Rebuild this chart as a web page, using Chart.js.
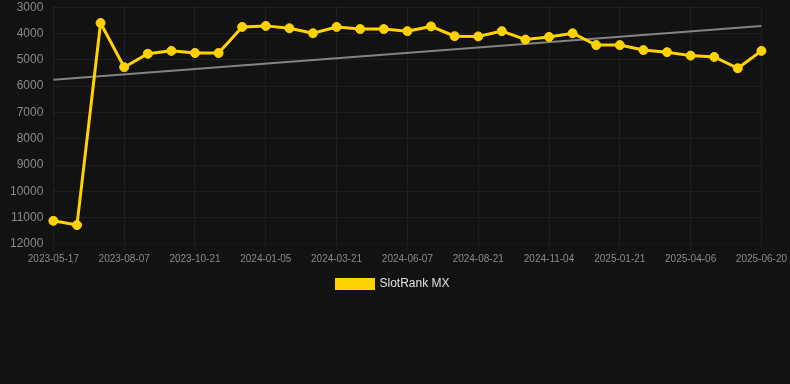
<!DOCTYPE html>
<html lang="en">
<head>
    <meta charset="UTF-8">
    <title>SlotRank MX</title>
    <script src="https://cdn.jsdelivr.net/npm/chart.js@4.4.0/dist/chart.umd.min.js"></script>
    <style>
        body {
            margin: 0;
            background-color: #121212;
        }
        .chart-container {
            width: 790px;
            height: 300px;
        }
    </style>
</head>
<body>
    <div class="chart-container">
        <canvas id="rankChart"></canvas>
    </div>

    <script>
        // Dates (category axis) - only every third one is labelled
        const dates = [
            '2023-05-17', '2023-06-13', '2023-07-11', '2023-08-07', '2023-09-03', '2023-09-27',
            '2023-10-21', '2023-11-17', '2023-12-11', '2024-01-05', '2024-01-31', '2024-02-25',
            '2024-03-21', '2024-04-17', '2024-05-12', '2024-06-07', '2024-07-03', '2024-07-27',
            '2024-08-21', '2024-09-15', '2024-10-10', '2024-11-04', '2024-11-30', '2024-12-26',
            '2025-01-21', '2025-02-14', '2025-03-12', '2025-04-06', '2025-04-30', '2025-05-25',
            '2025-06-20'
        ];
        const rankValues = [
            11120, 11280, 3600, 5280, 4770, 4660, 4740, 4740, 3750, 3710, 3800, 3990,
            3750, 3830, 3830, 3910, 3730, 4100, 4110, 3910, 4230, 4130, 3990, 4440,
            4440, 4630, 4710, 4840, 4890, 5320, 4660
        ];
        // Trend line: start and end values only
        const trendValues = [5760, null, null, null, null, null, null, null, null, null, null, null,
            null, null, null, null, null, null, null, null, null, null, null, null,
            null, null, null, null, null, null, 3710];
        const yTicks = [3000, 4000, 5000, 6000, 7000, 8000, 9000, 10000, 11000, 12000];

        const ctx = document.getElementById('rankChart').getContext('2d');
        new Chart(ctx, {
            type: 'line',
            data: {
                labels: dates,
                datasets: [
                    {
                        label: 'SlotRank MX',
                        data: rankValues,
                        borderColor: '#ffd200',
                        backgroundColor: '#ffd200',
                        borderWidth: 3,
                        pointRadius: 4.5,
                        pointBorderWidth: 1,
                        pointHoverRadius: 5,
                        tension: 0
                    },
                    {
                        label: 'trend',
                        data: trendValues,
                        borderColor: 'rgba(170, 170, 170, 0.75)',
                        borderWidth: 2,
                        pointRadius: 0,
                        spanGaps: true
                    }
                ]
            },
            options: {
                responsive: true,
                maintainAspectRatio: false,
                animation: false,
                layout: {
                    padding: { top: 0, right: 4 }
                },
                plugins: {
                    legend: {
                        position: 'bottom',
                        labels: {
                            color: '#e0e0e0',
                            boxWidth: 37,
                            boxHeight: 9,
                            font: { size: 12, family: 'Arial, Liberation Sans, sans-serif' },
                            filter: item => item.text !== 'trend'
                        }
                    },
                    tooltip: { enabled: false }
                },
                scales: {
                    x: {
                        offset: false,
                        grid: {
                            color: 'rgba(255, 255, 255, 0.05)',
                            tickLength: 6
                        },
                        ticks: {
                            color: '#8a8a8a',
                            maxRotation: 0,
                            autoSkip: false,
                            font: { size: 10, family: 'Arial, Liberation Sans, sans-serif' },
                            callback: function (value, index) {
                                return index % 3 === 0 ? dates[index] : null;
                            }
                        }
                    },
                    y: {
                        reverse: true,
                        min: 3000,
                        max: 12000,
                        afterBuildTicks: axis => {
                            axis.ticks = yTicks.map(v => ({ value: v }));
                        },
                        afterFit: axis => {
                            axis.width += 10;
                        },
                        grid: {
                            color: 'rgba(255, 255, 255, 0.05)',
                            drawTicks: true,
                            tickLength: 10,
                            tickColor: 'rgba(0, 0, 0, 0)'
                        },
                        border: { display: false },
                        ticks: {
                            color: '#8a8a8a',
                            padding: 0,
                            font: { size: 12, family: 'Arial, Liberation Sans, sans-serif' },
                            callback: value => String(value)
                        }
                    }
                }
            }
        });
    </script>
</body>
</html>
